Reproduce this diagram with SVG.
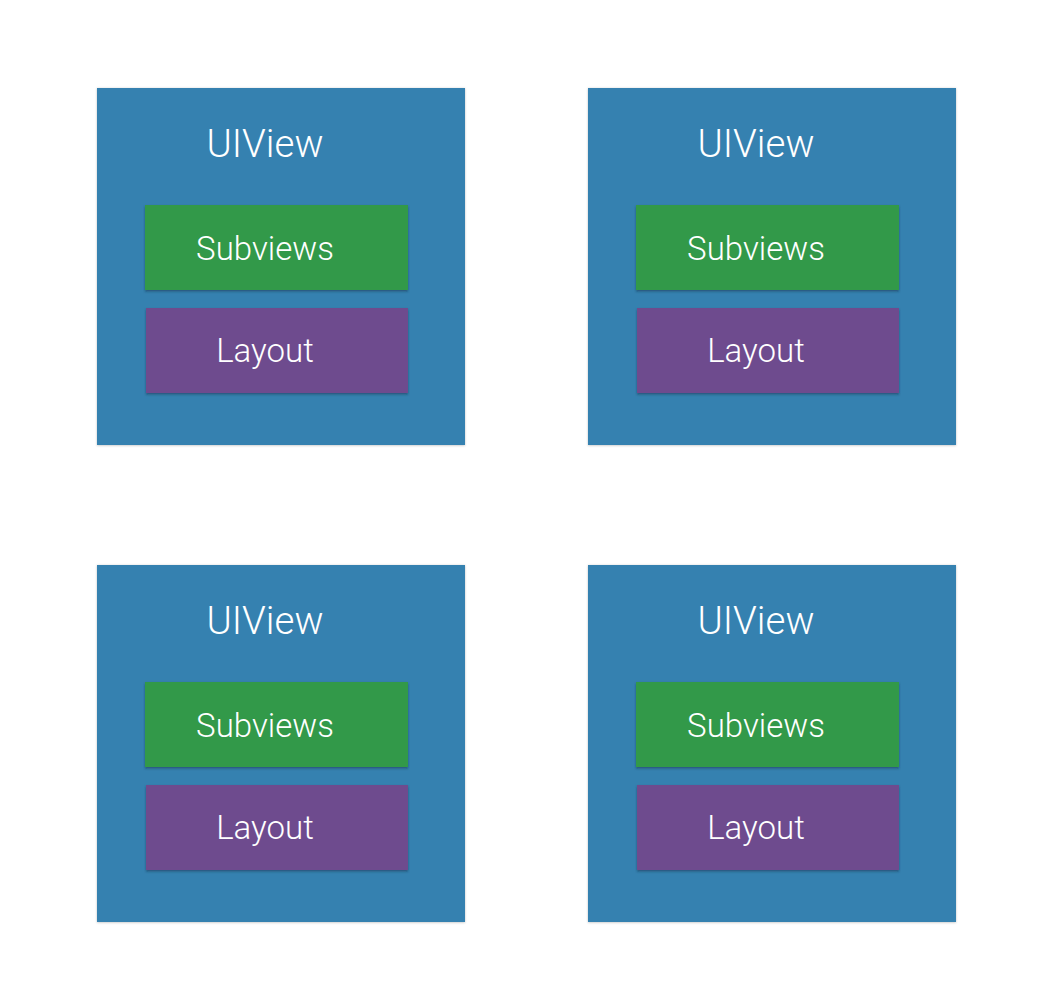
<svg xmlns="http://www.w3.org/2000/svg" width="1044" height="998" viewBox="0 0 1044 998">
<defs>
<filter id="sh" x="-10%" y="-10%" width="120%" height="130%">
<feDropShadow dx="0" dy="1.5" stdDeviation="1.2" flood-color="#0a2a40" flood-opacity="0.5"/>
</filter>
<filter id="osh" x="-5%" y="-5%" width="110%" height="110%">
<feDropShadow dx="0" dy="0.5" stdDeviation="0.8" flood-color="#000" flood-opacity="0.25"/>
</filter>
<g id="unit">
<rect x="0" y="0" width="368" height="357" class="outer" filter="url(#osh)"/>
<text x="168" y="69" class="t1">UIView</text>
<rect x="48" y="117" width="263" height="85" class="green" filter="url(#sh)"/>
<text x="168" y="172" class="t2">Subviews</text>
<rect x="49" y="220" width="262" height="85" class="purple" filter="url(#sh)"/>
<text x="168" y="274" class="t2">Layout</text>
</g>
</defs>
<style>
.outer{fill:#3581b0}
.green{fill:#30994a}
.purple{fill:#6e4b8e}
text{font-family:Roboto,"Liberation Sans",sans-serif;font-weight:300;fill:#ffffff;text-anchor:middle}
.t1{font-size:38.5px}
.t2{font-size:33px}
</style>
<rect width="1044" height="998" fill="#ffffff"/>
<g id="node1"><use href="#unit" x="97" y="88"/></g>
<g id="node2"><use href="#unit" x="588" y="88"/></g>
<g id="node3"><use href="#unit" x="97" y="565"/></g>
<g id="node4"><use href="#unit" x="588" y="565"/></g>
<g id="connectors"></g>
</svg>
